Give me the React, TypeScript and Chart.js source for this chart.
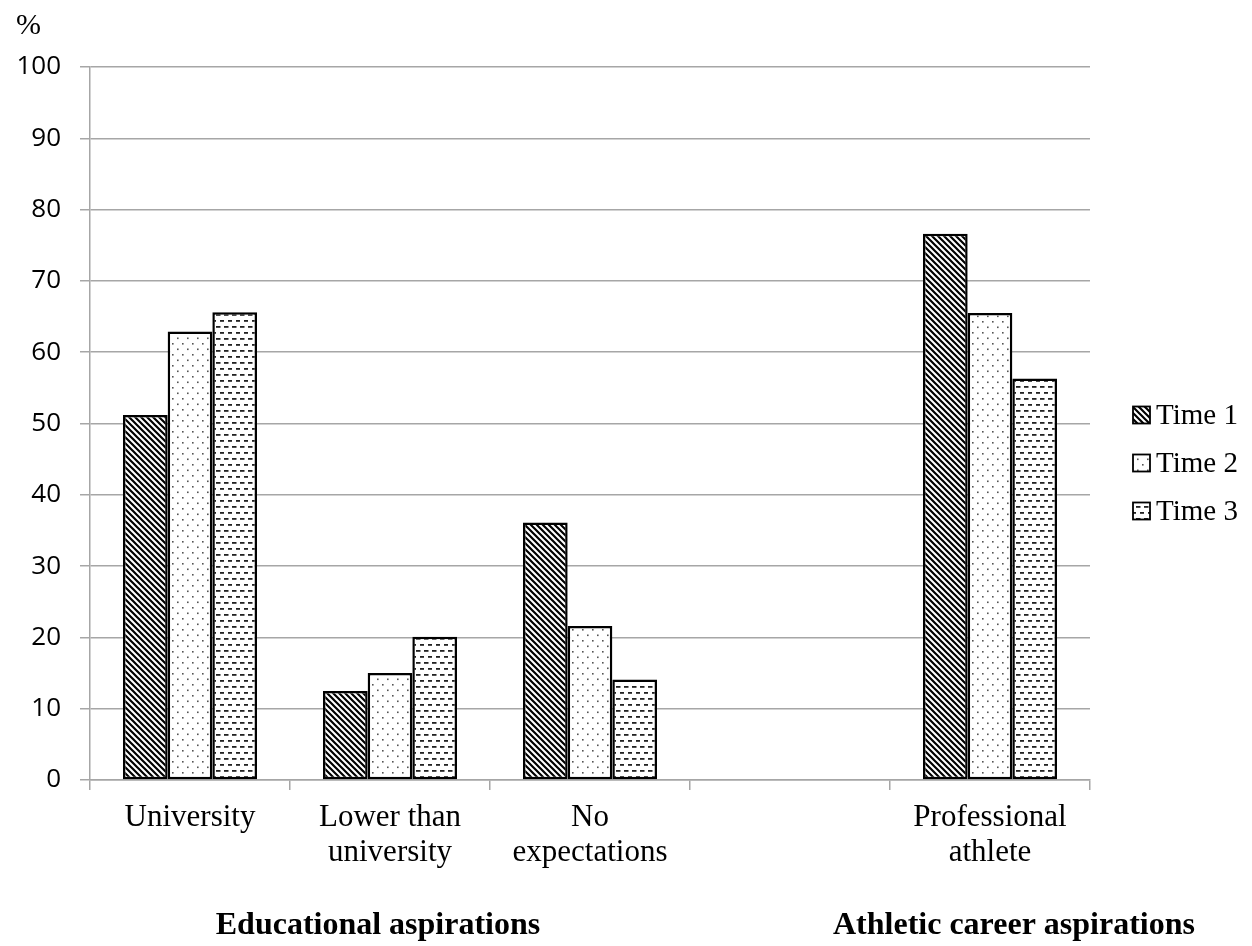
import React, { useEffect, useRef } from "react";
import { Chart, registerables } from "chart.js";

Chart.register(...registerables);

const categories: (string | string[])[] = [
  "University",
  ["Lower than", "university"],
  ["No", "expectations"],
  "",
  ["Professional", "athlete"],
];
const seriesLabels = ["Time 1", "Time 2", "Time 3"];
const time1 = [51.2, 12.5, 36.1, null, 76.6];
const time2 = [62.9, 15.0, 21.6, null, 65.5];
const time3 = [65.6, 20.1, 14.1, null, 56.3];
const groupLabels = ["Educational aspirations", "Athletic career aspirations"];
const yTicks = [0, 10, 20, 30, 40, 50, 60, 70, 80, 90, 100];

function makePattern(kind: number): CanvasPattern | string {
  const c = document.createElement("canvas");
  const ctx = c.getContext("2d");
  if (!ctx) return "#fff";
  if (kind === 0) {
    c.width = 6; c.height = 6;
    ctx.fillStyle = "#fff"; ctx.fillRect(0, 0, 6, 6);
    ctx.strokeStyle = "#000"; ctx.lineWidth = 2.2;
    ctx.beginPath();
    ctx.moveTo(-1, -1); ctx.lineTo(7, 7);
    ctx.moveTo(-1, 5); ctx.lineTo(1, 7);
    ctx.moveTo(5, -1); ctx.lineTo(7, 1);
    ctx.stroke();
  } else if (kind === 1) {
    c.width = 10; c.height = 11;
    ctx.fillStyle = "#fff"; ctx.fillRect(0, 0, 10, 11);
    ctx.fillStyle = "#555";
    ctx.fillRect(2, 2, 1.6, 1.6);
    ctx.fillRect(7, 7.5, 1.6, 1.6);
  } else {
    c.width = 8; c.height = 12;
    ctx.fillStyle = "#fff"; ctx.fillRect(0, 0, 8, 12);
    ctx.fillStyle = "#222";
    ctx.fillRect(0, 2, 4.5, 1.8);
    ctx.fillRect(4, 8, 4.5, 1.8);
  }
  const p = ctx.createPattern(c, "repeat");
  return p || "#fff";
}

export default function App() {
  const ref = useRef<HTMLCanvasElement | null>(null);
  useEffect(() => {
    document.body.style.margin = "0";
    const canvas = ref.current;
    if (!canvas) return;
    const patterns = [makePattern(0), makePattern(1), makePattern(2)];
    const values = [time1, time2, time3];

    const extras = {
      id: "extras",
      afterDraw(chart: any) {
        const ctx = chart.ctx as CanvasRenderingContext2D;
        const xs = chart.scales.x;
        ctx.save();
        ctx.fillStyle = "#000";
        ctx.font = "30px 'Liberation Serif'";
        ctx.textAlign = "left";
        ctx.textBaseline = "middle";
        ctx.fillText("%", 16, 26);
        ctx.font = "bold 32px 'Liberation Serif'";
        ctx.textAlign = "center";
        ctx.fillText(groupLabels[0], xs.getPixelForValue(1) - 12, 926);
        ctx.fillText(groupLabels[1], xs.getPixelForValue(4) + 24, 926);
        chart.data.datasets.forEach((ds: any, i: number) => {
          const cy = 415 + 48 * i;
          ctx.fillStyle = ds.backgroundColor;
          ctx.fillRect(1133, cy - 8.5, 17, 17);
          ctx.strokeStyle = "#000";
          ctx.lineWidth = 1.8;
          ctx.strokeRect(1133, cy - 8.5, 17, 17);
          ctx.fillStyle = "#000";
          ctx.font = "29px 'Liberation Serif'";
          ctx.textAlign = "left";
          ctx.textBaseline = "middle";
          ctx.fillText(ds.label, 1156, cy + 1);
        });
        ctx.restore();
      },
    };

    const chart = new Chart(canvas, {
      type: "bar",
      data: {
        labels: categories,
        datasets: seriesLabels.map((l, i) => ({
          label: l,
          data: values[i],
          backgroundColor: patterns[i] as any,
          borderColor: "#000",
          borderWidth: 2.5,
          borderSkipped: false,
          categoryPercentage: 0.67,
          barPercentage: 1.0,
        })),
      },
      options: {
        animation: false,
        responsive: false,
        devicePixelRatio: 1,
        layout: { padding: { top: 67, right: 162, left: 0, bottom: 0 } },
        plugins: { legend: { display: false }, tooltip: { enabled: false } },
        scales: {
          x: {
            afterFit(scale: any) { scale.height = 166; },
            grid: {
              offset: true,
              drawOnChartArea: false,
              color: "#a6a6a6",
              lineWidth: 1.5,
              tickLength: 10,
            },
            border: { color: "#a6a6a6", width: 1.5 },
            ticks: {
              color: "#000",
              padding: 10,
              maxRotation: 0,
              autoSkip: false,
              font: { family: "'Liberation Serif'", size: 31, lineHeight: 1.13 },
            },
          },
          y: {
            min: 0,
            max: 100,
            afterFit(scale: any) { scale.width = 90; },
            afterBuildTicks(scale: any) { scale.ticks = yTicks.map((v) => ({ value: v })); },
            grid: { color: "#a6a6a6", lineWidth: 1.5, tickLength: 10 },
            border: { color: "#a6a6a6", width: 1.5 },
            ticks: {
              color: "#000",
              padding: 19,
              font: { family: "'Open Sans'", size: 26 },
            },
          },
        },
      },
      plugins: [extras],
    });
    return () => chart.destroy();
  }, []);
  return <canvas ref={ref} width={1252} height={946} style={{ display: "block" }} />;
}
